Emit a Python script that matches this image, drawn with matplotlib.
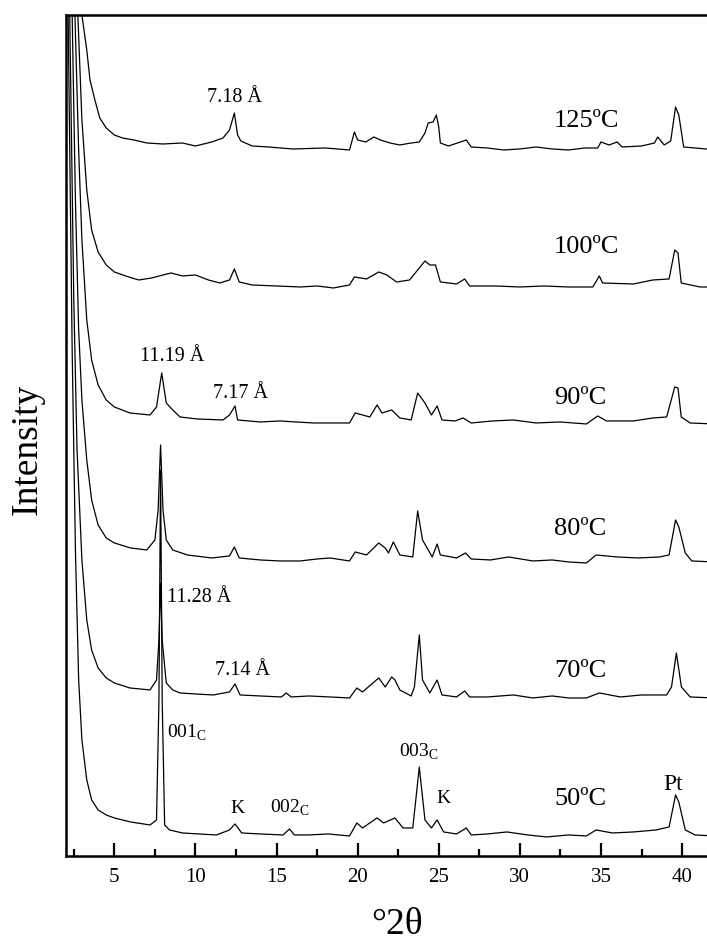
import numpy as np
import matplotlib
matplotlib.use("Agg")
import matplotlib.pyplot as plt

plt.rcParams['font.family'] = ['Liberation Serif', 'DejaVu Serif']
plt.rcParams['mathtext.fontset'] = 'custom'
plt.rcParams['mathtext.rm'] = 'Liberation Serif'

### XRD patterns (2theta in deg, intensity above each pattern's baseline)

temps = ['50ºC', '70ºC', '80ºC', '90ºC', '100ºC', '125ºC']
offsets = [20, 158, 295, 433, 569, 707]

tt_50 = [2.0, 2.15, 2.4, 2.6, 2.8, 3.0, 3.3, 3.6, 4.0, 4.5, 5.0, 6.0, 7.2, 7.6, 7.75, 7.85, 7.95, 8.1,
         8.4, 9.2, 10.2, 11.3, 12.1, 12.44, 12.85, 14.0, 15.4, 15.8, 16.1, 17.0, 18.2, 19.5, 19.95,
         20.3, 21.2, 21.6, 22.3, 22.8, 23.4, 23.8, 24.15, 24.55, 24.9, 25.3, 26.1, 26.7, 27.0, 28.0,
         29.2, 30.5, 31.65, 33.0, 34.1, 34.7, 35.7, 37.0, 38.4, 39.2, 39.6, 39.8, 40.2, 40.8, 42.0]
I_50 = [1200, 821, 486, 286, 156, 96, 56, 36, 26, 21, 18, 14, 11, 16, 136, 366, 136, 11,
        6, 3, 2, 1, 6, 12, 3, 2, 1, 7, 1, 1, 2, 0, 13,
        8, 18, 13, 18, 8, 8, 69, 16, 8, 16, 4, 2, 8, 1, 2,
        4, 1, -1, 1, 0, 6, 3, 4, 6, 9, 41, 34, 6, 1, 0]

tt_70 = [2.0, 2.25, 2.5, 2.7, 3.0, 3.3, 3.6, 4.0, 4.5, 5.0, 5.96, 7.2, 7.6, 7.75, 7.85, 7.95, 8.2,
         8.6, 9.05, 10.0, 11.1, 12.1, 12.44, 12.75, 14.0, 15.3, 15.6, 15.9, 17.0, 18.3, 19.5, 19.95,
         20.3, 21.3, 21.7, 22.1, 22.3, 22.6, 23.3, 23.5, 23.8, 24.0, 24.45, 24.9, 25.2, 26.1, 26.6,
         26.9, 28.0, 29.6, 30.8, 32.0, 33.0, 34.1, 34.9, 36.2, 37.5, 39.05, 39.35, 39.65, 39.96,
         40.5, 42.0]
I_70 = [1100, 683, 398, 248, 138, 78, 48, 30, 20, 15, 10, 8, 18, 58, 115, 58, 15,
        8, 5, 4, 3, 6, 14, 3, 2, 1, 5, 1, 2, 1, 0, 10,
        6, 20, 11, 21, 18, 8, 2, 11, 63, 18, 5, 18, 3, 1, 7,
        1, 1, 3, 0, 2, 0, 0, 5, 1, 3, 3, 11, 45, 11,
        1, 0]

tt_80 = [2.0, 2.4, 2.6, 2.8, 3.0, 3.3, 3.6, 4.0, 4.5, 5.0, 6.0, 7.0, 7.5, 7.7, 7.85, 8.0, 8.2,
         8.6, 9.5, 11.0, 12.1, 12.4, 12.7, 14.0, 15.2, 16.45, 17.5, 18.3, 19.5, 19.85, 20.55, 21.3,
         21.7, 21.9, 22.2, 22.6, 23.4, 23.7, 24.0, 24.35, 24.6, 24.9, 25.1, 26.1, 26.65, 27.0, 28.2,
         29.3, 30.8, 32.0, 33.0, 34.1, 34.7, 36.0, 37.3, 38.6, 39.2, 39.6, 39.8, 40.2, 40.6, 42.0]
I_80 = [1000, 546, 361, 231, 161, 101, 61, 36, 23, 18, 13, 11, 21, 51, 116, 51, 21,
        11, 6, 3, 5, 14, 3, 1, 0, 0, 2, 3, 0, 9, 6, 18,
        13, 8, 19, 6, 4, 50, 21, 11, 4, 17, 6, 3, 8, 2, 1,
        4, 0, 1, -1, -2, 6, 4, 3, 4, 6, 41, 34, 8, 0, -1]

tt_90 = [2.0, 2.57, 2.8, 3.0, 3.3, 3.6, 4.0, 4.5, 5.0, 5.96, 7.2, 7.6, 7.92, 8.2, 8.6, 9.05, 10.1,
         11.7, 12.1, 12.44, 12.6, 14.0, 15.2, 16.2, 17.3, 18.3, 19.5, 19.85, 20.75, 21.2, 21.5,
         22.1, 22.6, 23.3, 23.7, 24.15, 24.55, 24.9, 25.2, 26.0, 26.5, 27.0, 28.3, 29.6, 31.0,
         32.5, 34.1, 34.8, 35.35, 37.0, 38.2, 39.05, 39.55, 39.75, 39.95, 40.5, 42.0]
I_90 = [900, 408, 273, 183, 103, 63, 38, 23, 16, 10, 8, 16, 50, 20, 13, 6, 4,
        3, 8, 17, 3, 1, 2, 1, 0, 0, 0, 10, 6, 18, 10,
        13, 5, 3, 30, 20, 8, 17, 3, 2, 5, 0, 2, 3, 0,
        1, -1, 7, 2, 2, 5, 6, 36, 35, 6, 0, -1]

tt_100 = [2.0, 2.75, 3.0, 3.3, 3.6, 4.0, 4.5, 5.0, 5.7, 6.5, 7.3, 8.0, 8.5, 9.2, 10.0, 10.8, 11.5,
          12.1, 12.4, 12.7, 13.5, 15.0, 16.45, 17.5, 18.5, 19.5, 19.8, 20.55, 21.3, 21.8, 22.4,
          23.2, 23.7, 24.15, 24.45, 24.8, 25.1, 26.1, 26.6, 26.9, 28.5, 30.0, 31.5, 33.0, 34.5,
          34.9, 35.1, 37.0, 38.2, 39.2, 39.55, 39.75, 39.95, 41.1, 42.0]
I_100 = [800, 272, 167, 97, 57, 35, 22, 15, 11, 7, 9, 12, 14, 11, 12, 7, 4,
         7, 18, 5, 2, 1, 0, 1, -1, 2, 10, 8, 15, 12, 5,
         7, 17, 26, 22, 22, 5, 3, 8, 1, 1, 0, 1, 0, 0,
         11, 4, 3, 7, 8, 37, 34, 4, 0, 0]

tt_125 = [2.2, 3.0, 3.3, 3.5, 3.8, 4.1, 4.5, 5.0, 5.5, 6.2, 7.0, 8.0, 9.2, 10.0, 11.0, 11.7, 12.1,
          12.4, 12.6, 12.8, 13.5, 14.5, 16.0, 18.0, 19.5, 19.8, 20.0, 20.5, 21.0, 21.4, 22.0, 22.6,
          23.3, 23.8, 24.15, 24.35, 24.65, 24.85, 25.0, 25.1, 25.6, 26.7, 27.0, 28.0, 29.0, 30.0,
          31.0, 32.0, 33.0, 34.0, 34.8, 35.0, 35.5, 36.0, 36.3, 37.5, 38.3, 38.5, 38.9, 39.3,
          39.6, 39.8, 40.1, 41.5, 42.0]
I_125 = [600, 134, 99, 69, 49, 31, 21, 14, 11, 9, 6, 5, 6, 3, 7, 11, 19,
         36, 14, 8, 3, 2, 0, 1, -1, 17, 9, 7, 12, 9, 6, 4,
         6, 7, 16, 26, 27, 34, 22, 6, 3, 9, 2, 1, -1, 0,
         2, 0, -1, 1, 1, 7, 4, 7, 2, 3, 6, 12, 4, 8,
         42, 34, 2, 0, 0]

patterns = [(tt_50, I_50), (tt_70, I_70), (tt_80, I_80),
            (tt_90, I_90), (tt_100, I_100), (tt_125, I_125)]

fig = plt.figure(figsize=(7.07, 9.43), dpi=100)
ax = fig.add_axes([0.0929, 0.0923, 0.9177, 0.8918])

for (tt, I), off in zip(patterns, offsets):
    ax.plot(tt, np.array(I) + off, color='black', lw=0.9)

ax.set_xlim(2, 42)
ax.set_ylim(0, 841)

# temperature labels
temp_y = [51, 179, 321, 452, 603, 729]
for t, y in zip(temps, temp_y):
    ax.text(32.1, y, t, fontsize=19, va='baseline', ha='left')

# peak labels
ax.text(12.4, 754, '7.18 Å', fontsize=14.5, ha='center', va='baseline')
ax.text(8.55, 495, '11.19 Å', fontsize=14.5, ha='center', va='baseline')
ax.text(11.08, 458, '7.17 Å', fontsize=14.5, ha='left', va='baseline')
ax.text(8.25, 254, '11.28 Å', fontsize=14.5, ha='left', va='baseline')
ax.text(11.2, 181, '7.14 Å', fontsize=14.5, ha='left', va='baseline')
ax.text(8.25, 118, r'001$_{\mathrm{C}}$', fontsize=14, ha='left', va='baseline')
ax.text(12.56, 43, 'K', fontsize=14, ha='center', va='baseline')
ax.text(14.6, 43, r'002$_{\mathrm{C}}$', fontsize=14, ha='left', va='baseline')
ax.text(22.55, 99, r'003$_{\mathrm{C}}$', fontsize=14, ha='left', va='baseline')
ax.text(25.3, 53, 'K', fontsize=14, ha='center', va='baseline')
ax.text(39.45, 66, 'Pt', fontsize=17, ha='center', va='baseline')

ax.set_xticks([5, 10, 15, 20, 25, 30, 35, 40])
ax.set_xticks(np.arange(2.5, 42, 2.5), minor=True)
ax.set_yticks([])
ax.tick_params(axis='x', which='major', direction='in', length=9.5, width=1.6,
               labelsize=15, pad=9)
ax.tick_params(axis='x', which='minor', direction='in', length=5, width=1.6)
for side in ['left', 'bottom', 'top', 'right']:
    ax.spines[side].set_linewidth(1.8)

fig.text(397 / 707, 9 / 943, '°2θ', fontsize=27, ha='center', va='baseline')
fig.text(27 / 707, 1 - 449 / 943, 'Intensity', fontsize=27, rotation=90,
         ha='center', va='center')

fig.savefig('out.png', dpi=100)
